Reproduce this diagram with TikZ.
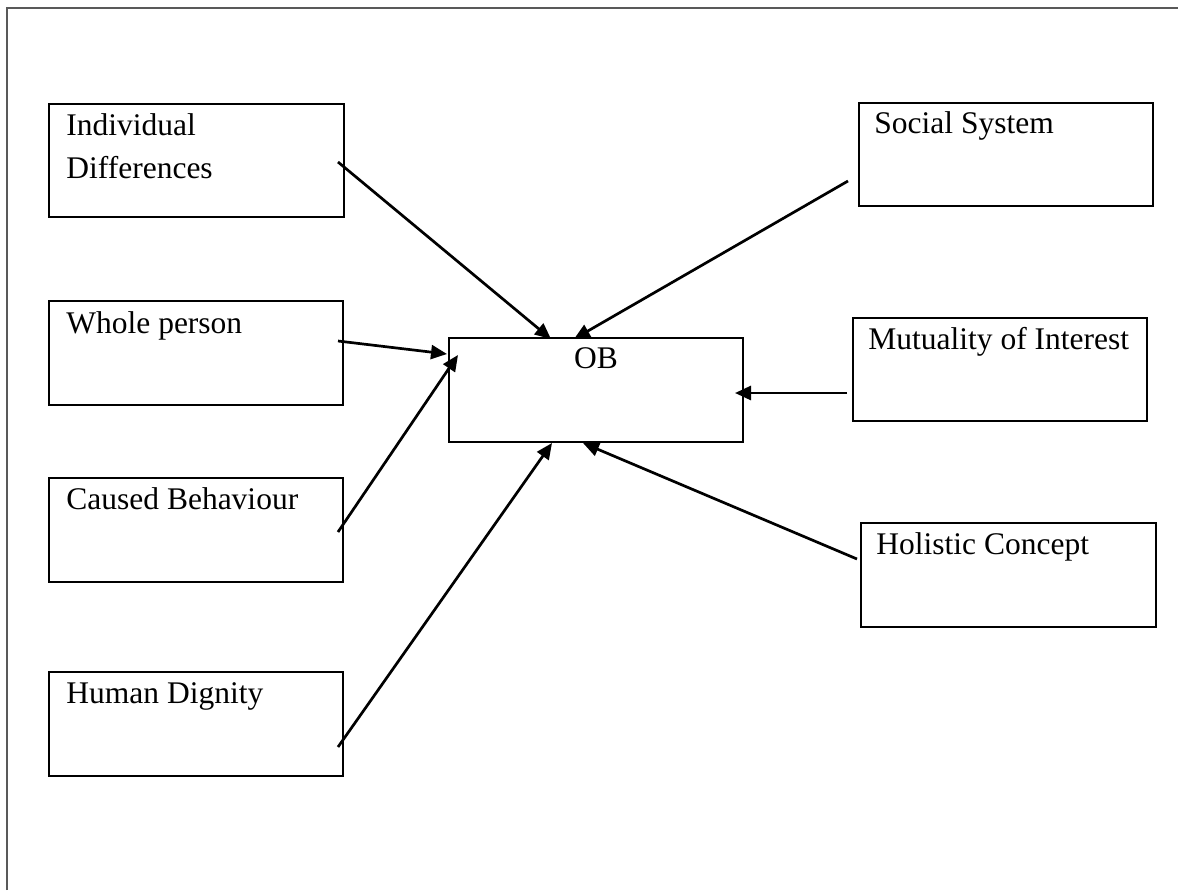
\documentclass[tikz,border=0pt]{standalone}
\usepackage{fontspec}
\setmainfont{Liberation Serif}
\usetikzlibrary{arrows.meta}
\begin{document}
\begin{tikzpicture}[x=0.5pt,y=-0.5pt,
  box/.style={draw=black, line width=0.75pt, rectangle, inner sep=0pt, outer sep=0pt, anchor=north west, minimum width=147pt, minimum height=52pt},
  lbl/.style={inner sep=0pt, anchor=base west, align=left, font=\fontsize{15.75}{21.5}\selectfont},
  link/.style={line width=1.35pt, -{Triangle[length=8pt,width=7pt]}},
  frameline/.style={draw=black!65, line width=1pt}]
\useasboundingbox (0,0) rectangle (1178,890);
% outer frame (left and top edges only)
\draw[frameline] (7,890) -- (7,8) -- (1178,8);

% boxes
\node[box, minimum width=147.5pt, minimum height=56.5pt] (id) at (49,104) {};
\node[box] (wp) at (49,301) {};
\node[box] (cb) at (49,478) {};
\node[box] (hd) at (49,672) {};
\node[box, minimum height=51.5pt] (ss) at (859,103) {};
\node[box, minimum height=51.5pt] (mi) at (853,318) {};
\node[box, minimum width=147.5pt] (hc) at (861,523) {};
\node[box] (ob) at (449,338) {};

% texts (multi-line nodes sit on the baseline of their last line)
\node[lbl] (idt) at (66,178) {Individual\\Differences};
\node[lbl] (wpt) at (66,333) {Whole person};
\node[lbl] (cbt) at (66,509) {Caused Behaviour};
\node[lbl] (hdt) at (66,703) {Human Dignity};
\node[lbl] (sst) at (874,133) {Social System};
\node[lbl] (mit) at (868,349) {Mutuality of Interest};
\node[lbl] (hct) at (876,554) {Holistic Concept};
\node[lbl, anchor=base] (obt) at (596,368) {OB};

% connector end points
\coordinate (id-o) at (338,162);
\coordinate (wp-o) at (338,341);
\coordinate (cb-o) at (338,532);
\coordinate (hd-o) at (338,747);
\coordinate (ss-o) at (848,181);
\coordinate (mi-o) at (847,393);
\coordinate (hc-o) at (857,559);
\coordinate (ob-1) at (551,339);
\coordinate (ob-2) at (574,339);
\coordinate (ob-3) at (447,354);
\coordinate (ob-4) at (458,355);
\coordinate (ob-5) at (552,443);
\coordinate (ob-6) at (735,393);
\coordinate (ob-7) at (583,443);

\draw[link] (id-o) -- (ob-1);
\draw[link] (ss-o) -- (ob-2);
\draw[link] (wp-o) -- (ob-3);
\draw[link] (cb-o) -- (ob-4);
\draw[link] (hd-o) -- (ob-5);
\draw[link] (mi-o) -- (ob-6);
\draw[link] (hc-o) -- (ob-7);
\end{tikzpicture}
\end{document}
